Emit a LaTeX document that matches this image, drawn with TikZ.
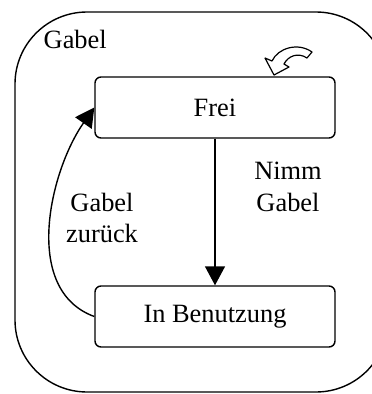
\documentclass[tikz,border=0pt]{standalone}
\usepackage{fontspec}
\setmainfont{Liberation Serif}
\usetikzlibrary{arrows.meta}
\usetikzlibrary{positioning}

\tikzset{
  zustand/.style={draw, rounded corners=6pt, minimum width=240pt, minimum height=61pt, inner sep=0pt},
  pfeil/.style={-{Triangle[length=19pt,width=20pt]}},
}

\begin{document}
\begin{tikzpicture}[x=1pt,y=1pt,yscale=-1,xscale=1,line width=1.4pt,
  font=\fontsize{26.4}{31.7}\selectfont]
\useasboundingbox (0,0) rectangle (372,394);

% container
\draw [rounded corners=72pt] (15,12) rectangle (388,392);
\node [anchor=base west, inner sep=0pt] (gabel) at (43,48) {Gabel};

% states
\node [zustand] (frei) at (215,107.5) {Frei};
\node [zustand] (benutzung) at (215,316.5) {In Benutzung};

% transitions
\draw [pfeil] (frei) -- (benutzung);
\draw [pfeil] (benutzung.west) to [out=200, in=125, looseness=0.95] (frei.west);

\node [align=center, inner sep=0pt] (nimm) at (288,187) {Nimm\\Gabel};
\node [align=center, inner sep=0pt] (zurueck) at (102,218) {Gabel\\zurück};

% self loop symbol
\draw [fill=white, line width=1.2pt, line join=round] (274,75) -- (265,58) -- (272,61) .. controls (278,48) and (298,42) .. (312,52) -- (307,58) .. controls (298,52) and (288,56) .. (284,64) -- (289,67) -- cycle;

\end{tikzpicture}
\end{document}
